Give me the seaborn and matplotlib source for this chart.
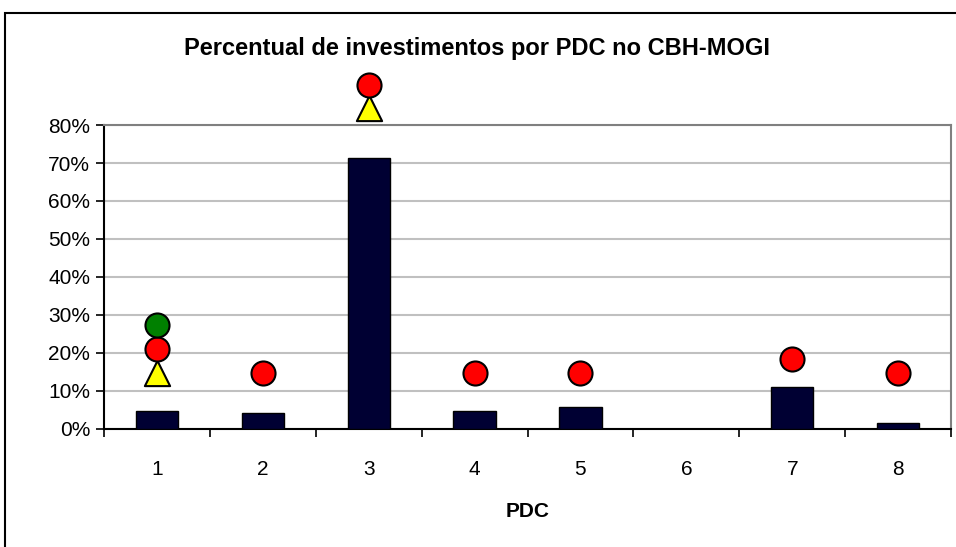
import numpy as np
import pandas as pd
import seaborn as sb
import matplotlib.pyplot as plt
from matplotlib.patches import Rectangle

# data
pdc = [1, 2, 3, 4, 5, 6, 7, 8]
investimento = [0.047, 0.042, 0.713, 0.047, 0.058, 0.0, 0.110, 0.015]

# marker series (red circles, yellow triangles, green circles)
red_pdc = [1, 2, 3, 4, 5, 7, 8]
red_val = [0.21, 0.147, 0.905, 0.147, 0.147, 0.184, 0.147]
yellow_pdc = [1, 3]
yellow_val = [0.147, 0.845]
green_pdc = [1]
green_val = [0.274]

y_ticks = [0, 0.1, 0.2, 0.3, 0.4, 0.5, 0.6, 0.7, 0.8]
y_labels = ["0%", "10%", "20%", "30%", "40%", "50%", "60%", "70%", "80%"]

sb.set_style("white")
plt.rcParams['font.family'] = ['Liberation Sans', 'DejaVu Sans']
plt.rcParams['text.color'] = 'black'
plt.rcParams['xtick.color'] = 'black'
plt.rcParams['ytick.color'] = 'black'
plt.rcParams['axes.labelcolor'] = 'black'

fig = plt.figure(figsize=(9.56, 5.47), dpi=100)
# outer chart border (only top and left visible in the reference)
fig.patches.append(Rectangle((5/956, -0.1), 1.2, (547-13)/547 + 0.1, transform=fig.transFigure,
                             fill=False, edgecolor='black', linewidth=1.5))

ax = fig.add_axes([104/956, (547-429)/547, (951-104)/956, (429-125)/547])

df = pd.DataFrame({"pdc": [p - 1 for p in pdc], "inv": investimento})
sb.barplot(data=df, x="pdc", y="inv", color="#000033", width=0.4, edgecolor="black",
           linewidth=1, saturation=1, native_scale=True, ax=ax, zorder=3)

x_red = [p - 1 for p in red_pdc]
x_yel = [p - 1 for p in yellow_pdc]
x_grn = [p - 1 for p in green_pdc]
sb.scatterplot(x=x_yel, y=yellow_val, marker="^", s=330, color="yellow", edgecolor="black",
               linewidth=1.5, ax=ax, zorder=4)
sb.scatterplot(x=x_red, y=red_val, marker="o", s=300, color="red", edgecolor="black",
               linewidth=1.5, ax=ax, zorder=5)
sb.scatterplot(x=x_grn, y=green_val, marker="o", s=300, color="green", edgecolor="black",
               linewidth=1.5, ax=ax, zorder=5)
for c in ax.collections:
    c.set_clip_on(False)

ax.set_xlim(-0.5, 7.5)
ax.set_ylim(0, 0.8)
ax.set_yticks(y_ticks)
ax.set_yticklabels(y_labels, fontsize=15)
ax.set_xticks(np.arange(-0.5, 8, 1))
ax.set_xticklabels([])
ax.set_xticks(range(8), minor=True)
ax.set_xticklabels([str(p) for p in pdc], minor=True, fontsize=15)
ax.tick_params(axis='x', which='major', direction='out', length=6, width=1.2, bottom=True)
ax.tick_params(axis='x', which='minor', length=0, pad=22)
ax.tick_params(axis='y', direction='out', length=6, width=1.2, left=True, pad=4)

ax.yaxis.grid(True, color="#c0c0c0", linewidth=1.5, zorder=0)
ax.set_axisbelow(True)
for s in ['left', 'bottom']:
    ax.spines[s].set_color('black')
    ax.spines[s].set_linewidth(1.5)
for s in ['top', 'right']:
    ax.spines[s].set_color('#808080')
    ax.spines[s].set_linewidth(1.5)

ax.set_xlabel("PDC", fontsize=15, fontweight='bold', labelpad=17)
ax.set_ylabel("")
fig.text(477/956, 1 - 49/547, "Percentual de investimentos por PDC no CBH-MOGI",
         ha='center', va='center', fontsize=17, fontweight='bold')

plt.savefig("out.png", dpi=100)
